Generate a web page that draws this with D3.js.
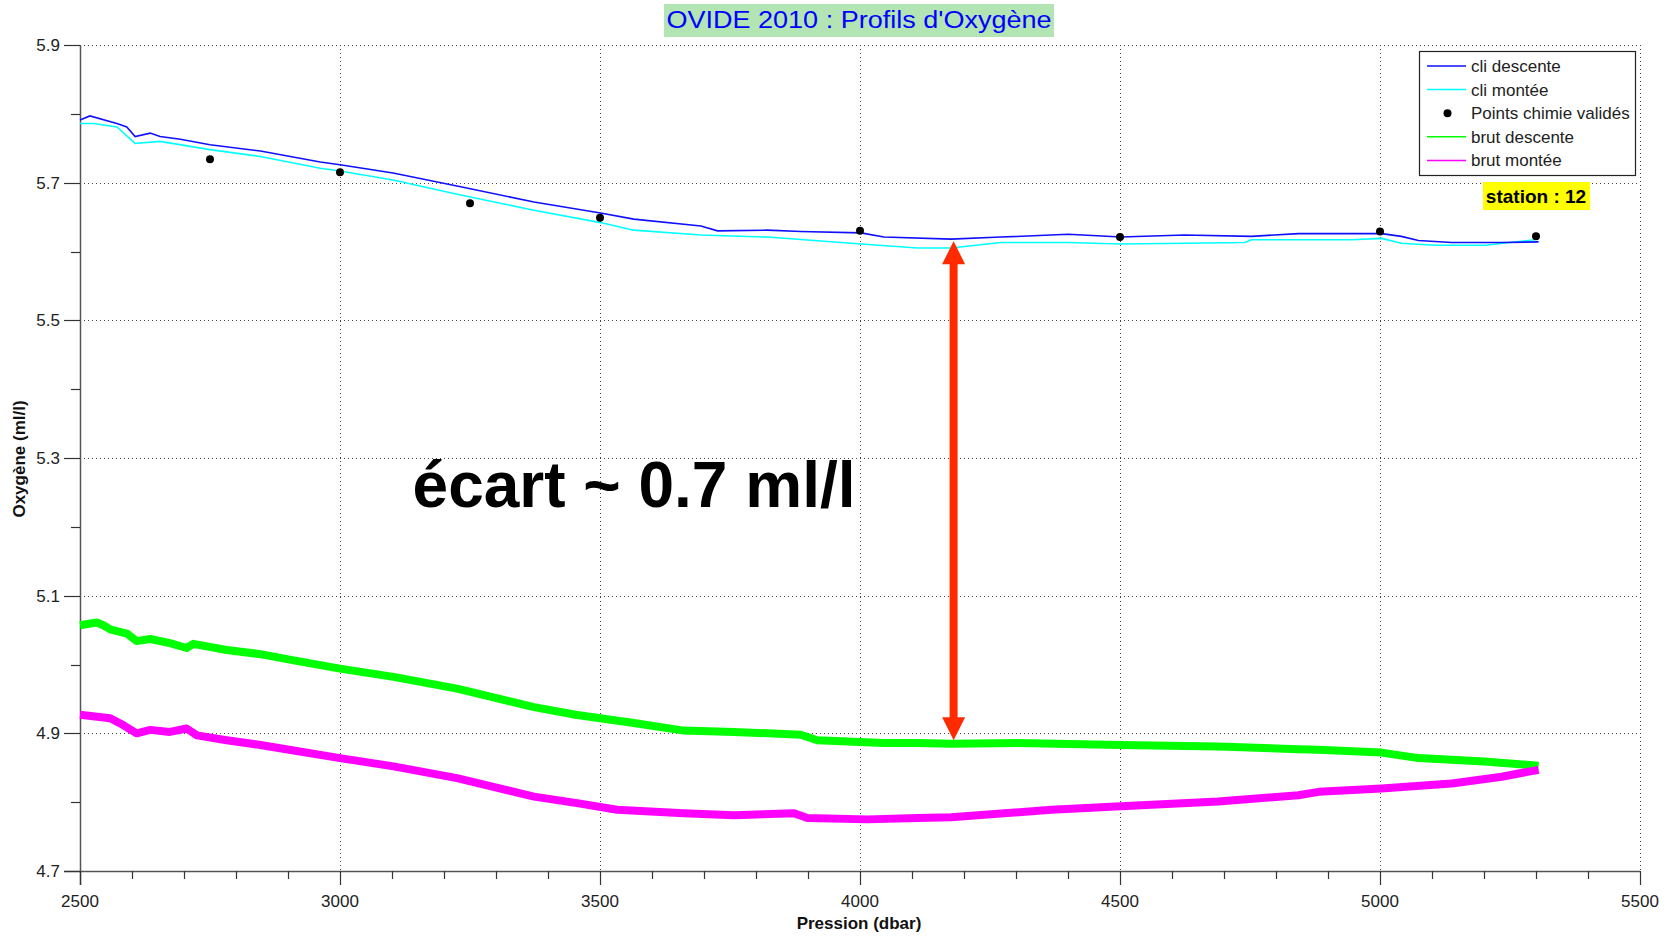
<!DOCTYPE html>
<html><head><meta charset="utf-8">
<script src="https://cdn.jsdelivr.net/npm/d3@7"></script>
<style>
html,body{margin:0;padding:0;background:#fff;}
svg{display:block;font-family:"Liberation Sans",Arial,sans-serif;}
</style></head>
<body><svg id="chart" width="1675" height="936"></svg>
<script>
// ---- data ----
const cliDescP = [2500,2519,2571,2590,2606,2635,2654,2693,2750,2847,2962,3000,3102,3232,3373,3501,3565,3694,3726,3822,3886,4002,4046,4175,4271,4400,4502,4624,4753,4843,4882,5003,5041,5074,5138,5234,5305];
const cliDescV = [5.791,5.797,5.786,5.781,5.767,5.772,5.767,5.763,5.755,5.746,5.730,5.726,5.714,5.694,5.672,5.656,5.647,5.637,5.630,5.631,5.629,5.627,5.621,5.618,5.621,5.625,5.621,5.624,5.622,5.626,5.626,5.626,5.622,5.616,5.613,5.613,5.614];

const cliMontP = [2500,2526,2571,2606,2654,2750,2847,2962,3000,3102,3232,3373,3501,3565,3694,3822,4002,4111,4175,4271,4400,4502,4624,4740,4753,4843,4946,5003,5041,5106,5202,5298];
const cliMontV = [5.786,5.786,5.781,5.757,5.760,5.748,5.738,5.721,5.717,5.704,5.682,5.660,5.642,5.631,5.624,5.621,5.611,5.605,5.605,5.613,5.613,5.611,5.612,5.613,5.617,5.617,5.617,5.619,5.612,5.609,5.609,5.617];

const chemP = [2750,3000,3250,3500,4000,4500,5000,5300];
const chemV = [5.734,5.715,5.670,5.649,5.630,5.621,5.629,5.622];

const brutDescP = [2500,2532,2545,2558,2590,2609,2635,2673,2705,2718,2782,2847,2911,3000,3103,3225,3373,3453,3565,3661,3758,3886,3918,4046,4111,4175,4304,4502,4689,4843,4882,5003,5074,5201,5305];
const brutDescV = [5.057,5.061,5.057,5.051,5.045,5.034,5.037,5.031,5.024,5.030,5.021,5.015,5.006,4.994,4.982,4.965,4.938,4.927,4.915,4.904,4.902,4.898,4.890,4.886,4.886,4.885,4.886,4.883,4.881,4.877,4.876,4.872,4.864,4.859,4.853];

const brutMontP = [2500,2558,2583,2609,2635,2673,2705,2725,2782,2847,2911,3000,3103,3225,3373,3453,3533,3661,3758,3873,3899,4014,4111,4175,4368,4502,4689,4843,4882,5003,5138,5234,5305];
const brutMontV = [4.927,4.922,4.912,4.900,4.905,4.902,4.907,4.897,4.890,4.883,4.875,4.864,4.852,4.835,4.808,4.799,4.789,4.784,4.781,4.784,4.777,4.775,4.777,4.778,4.789,4.794,4.801,4.810,4.815,4.820,4.827,4.837,4.847];

const xTickLabels = [2500,3000,3500,4000,4500,5000,5500];
const yTickLabels = [4.7,4.9,5.1,5.3,5.5,5.7,5.9];
const seriesNames = ["cli descente","cli montée","Points chimie validés","brut descente","brut montée"];
const arrowP = 4180, arrowTop = 5.615, arrowBottom = 4.890;
const titleText = "OVIDE 2010 : Profils d'Oxygène";
const stationText = "station : 12";
const noteText = "écart ~ 0.7 ml/l";

// ---- layout ----
const L = 80, R = 1640, T = 45, B = 871;
const svg = d3.select("#chart");
const x = d3.scaleLinear().domain([2500,5500]).range([L,R]);
const y = d3.scaleLinear().domain([4.7,5.9]).range([B,T]);

const zip = (P,V) => P.map((p,i)=>[p,V[i]]);

// grid (dotted)
const grid = svg.append("g").attr("stroke","#444").attr("stroke-width",1).attr("stroke-dasharray","1,3");
xTickLabels.forEach(t=>{ if(t!==2500) grid.append("line").attr("x1",x(t)+0.5).attr("x2",x(t)+0.5).attr("y1",T).attr("y2",B); });
yTickLabels.forEach(t=>{ if(t!==4.7) grid.append("line").attr("x1",L).attr("x2",R).attr("y1",Math.round(y(t))+0.5).attr("y2",Math.round(y(t))+0.5); });

// axes
const xMinor = d3.range(2600,5500,100).filter(v=>v%500!==0);
const yMinor = [4.8,5.0,5.2,5.4,5.6,5.8];
const ax = svg.append("g");
ax.append("line").attr("x1",L-16).attr("x2",R).attr("y1",B+0.5).attr("y2",B+0.5).attr("stroke","#555").attr("stroke-width",1.5);
ax.append("line").attr("x1",L+0.5).attr("x2",L+0.5).attr("y1",T).attr("y2",B+14).attr("stroke","#555").attr("stroke-width",1.5);
xTickLabels.forEach(t=>{
  ax.append("line").attr("x1",x(t)+0.5).attr("x2",x(t)+0.5).attr("y1",B).attr("y2",B+14).attr("stroke","#333").attr("stroke-width",1.2);
  ax.append("text").attr("x",x(t)).attr("y",907).attr("text-anchor","middle").attr("font-size",17).attr("fill","#222").text(t);
});
xMinor.forEach(t=>{
  ax.append("line").attr("x1",x(t)+0.5).attr("x2",x(t)+0.5).attr("y1",B).attr("y2",B+8).attr("stroke","#333").attr("stroke-width",1.2);
});
yTickLabels.forEach(t=>{
  ax.append("line").attr("x1",L-16).attr("x2",L).attr("y1",Math.round(y(t))+0.5).attr("y2",Math.round(y(t))+0.5).attr("stroke","#333").attr("stroke-width",1.2);
  ax.append("text").attr("x",60).attr("y",y(t)+6).attr("text-anchor","end").attr("font-size",17).attr("fill","#222").text(t.toFixed(1));
});
yMinor.forEach(t=>{
  ax.append("line").attr("x1",L-9).attr("x2",L).attr("y1",Math.round(y(t))+0.5).attr("y2",Math.round(y(t))+0.5).attr("stroke","#333").attr("stroke-width",1.2);
});

// axis titles
svg.append("text").attr("x",859).attr("y",929).attr("text-anchor","middle").attr("font-size",17).attr("font-weight","bold").attr("fill","#111").text("Pression (dbar)");
svg.append("text").attr("transform","translate(25,459) rotate(-90)").attr("text-anchor","middle").attr("font-size",17).attr("font-weight","bold").attr("fill","#111").text("Oxygène (ml/l)");

// lines
const line = d3.line().x(d=>x(d[0])).y(d=>y(d[1]));
const plot = svg.append("g");
plot.append("path").datum(zip(brutDescP,brutDescV)).attr("d",line).attr("fill","none").attr("stroke","#00ff00").attr("stroke-width",8).attr("stroke-linejoin","round");
plot.append("path").datum(zip(brutMontP,brutMontV)).attr("d",line).attr("fill","none").attr("stroke","#ff00ff").attr("stroke-width",8).attr("stroke-linejoin","round");
plot.append("path").datum(zip(cliMontP,cliMontV)).attr("d",line).attr("fill","none").attr("stroke","#00ffff").attr("stroke-width",1.6);
plot.append("path").datum(zip(cliDescP,cliDescV)).attr("d",line).attr("fill","none").attr("stroke","#1010ff").attr("stroke-width",1.6);
plot.selectAll("circle.chem").data(zip(chemP,chemV)).enter().append("circle")
  .attr("cx",d=>x(d[0])).attr("cy",d=>y(d[1])).attr("r",4).attr("fill","#000");

// arrow
const ar = svg.append("g").attr("fill","#ff2a00");
const ax0 = x(arrowP), yt = y(arrowTop), yb = y(arrowBottom), hw = 11.5, hh = 23, sw = 4;
ar.append("rect").attr("x",ax0-sw).attr("y",yt+hh-1).attr("width",sw*2).attr("height",(yb-hh)-(yt+hh)+2);
ar.append("path").attr("d",`M${ax0},${yt} L${ax0-hw},${yt+hh} L${ax0+hw},${yt+hh} Z`);
ar.append("path").attr("d",`M${ax0},${yb} L${ax0-hw},${yb-hh} L${ax0+hw},${yb-hh} Z`);

// note text
svg.append("text").attr("x",634).attr("y",507).attr("text-anchor","middle").attr("font-size",64).attr("font-weight","bold").attr("fill","#000").text(noteText);

// title
svg.append("rect").attr("x",664).attr("y",4).attr("width",390).attr("height",33).attr("fill","#b3e4b3");
svg.append("text").attr("x",859).attr("y",28).attr("text-anchor","middle").attr("font-size",23).attr("fill","#0000ff")
  .attr("textLength",385).attr("lengthAdjust","spacingAndGlyphs").text(titleText);

// legend
const lg = svg.append("g");
lg.append("rect").attr("x",1419.5).attr("y",51.5).attr("width",216).attr("height",124).attr("fill","#fff").attr("stroke","#222").attr("stroke-width",1.2);
const legColors = ["#1010ff","#00ffff",null,"#00ff00","#ff00ff"];
seriesNames.forEach((n,i)=>{
  const yy = 66 + i*23.6;
  if(legColors[i]) lg.append("line").attr("x1",1427).attr("x2",1466).attr("y1",yy).attr("y2",yy).attr("stroke",legColors[i]).attr("stroke-width",1.5);
  else lg.append("circle").attr("cx",1447.5).attr("cy",yy).attr("r",4).attr("fill","#000");
  lg.append("text").attr("x",1471).attr("y",yy+6).attr("font-size",17).attr("fill","#222").text(n);
});

// station label
svg.append("rect").attr("x",1483).attr("y",182).attr("width",107).attr("height",28).attr("fill","#ffff00");
svg.append("text").attr("x",1536).attr("y",203).attr("text-anchor","middle").attr("font-size",19).attr("font-weight","bold").attr("fill","#000").text(stationText);
</script></body></html>
